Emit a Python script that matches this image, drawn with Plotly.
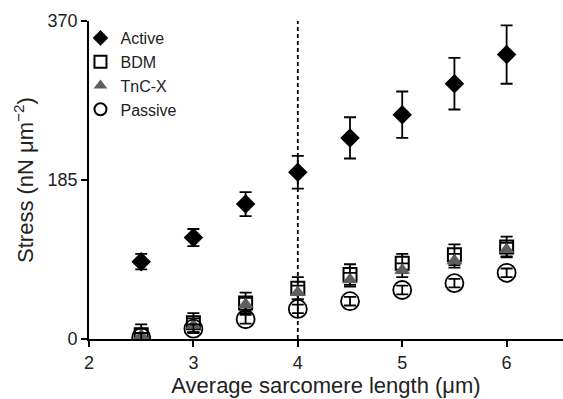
import plotly.graph_objects as go

lengths = [2.5, 3.0, 3.5, 4.0, 4.5, 5.0, 5.5, 6.0]
active = [90, 118, 157, 194, 234, 261, 297, 331]
active_err = [9, 10, 14, 19, 24, 27, 30, 34]
bdm = [5, 19, 42, 59, 75, 88, 98, 107]
bdm_err = [12, 11, 12, 13, 12, 11, 12, 12]
tncx = [4, 16, 40, 54, 69, 80, 91, 104]
tncx_err = [8, 8, 8, 8, 8, 8, 8, 8]
passive = [2, 12, 23, 35, 44, 57, 65, 77]
passive_err = [5, 5, 5, 5, 5, 5, 5, 5]

x_ticks = [2, 3, 4, 5, 6]
y_ticks = [0, 185, 370]
font = "Liberation Sans, Arial, sans-serif"

fig = go.Figure()

def add(name, y, err, symbol, size, color, line_w):
    fig.add_trace(go.Scatter(
        x=lengths, y=y, mode="markers", name=name,
        marker=dict(symbol=symbol, size=size, color=color,
                    line=dict(color="black", width=line_w)),
        error_y=dict(type="data", array=err, visible=True, color="black",
                     thickness=1.8, width=6),
    ))

add("Active", active, active_err, "diamond", 15, "black", 0)
add("BDM", bdm, bdm_err, "square-open", 13, "black", 2)
add("TnC-X", tncx, tncx_err, "triangle-up", 14, "#5e5e5e", 0)
add("Passive", passive, passive_err, "circle-open", 18, "black", 1.8)

fig.add_shape(type="line", x0=4, x1=4, y0=0, y1=378, xref="x", yref="y",
              line=dict(color="black", width=1.8, dash="4px,3px"), layer="below")

fig.update_layout(
    width=563, height=399,
    margin=dict(l=89, r=0, t=21, b=60),
    paper_bgcolor="white", plot_bgcolor="white",
    font=dict(family=font, size=18, color="#222"),
    showlegend=True,
    legend=dict(x=-0.018, y=1.0, xanchor="left", yanchor="top",
                font=dict(size=16, color="#222"), tracegroupgap=0,
                itemsizing="constant", itemwidth=30,
                bgcolor="rgba(0,0,0,0)"),
    xaxis=dict(range=[2, 6.54], tickvals=x_ticks, ticks="outside", ticklen=6,
               tickwidth=1.5, tickcolor="black", showline=True, linecolor="black",
               linewidth=1.8, showgrid=False, zeroline=False,
               title=dict(text="Average sarcomere length (μm)", standoff=6)),
    yaxis=dict(range=[0, 370], tickvals=y_ticks, ticks="outside", ticklen=6,
               tickwidth=1.5, tickcolor="black", showline=True, linecolor="black",
               linewidth=1.8, showgrid=False, zeroline=False,
               title=dict(text="Stress (nN μm<sup>−2</sup>)", standoff=8)),
)

fig.write_html("out.html")
